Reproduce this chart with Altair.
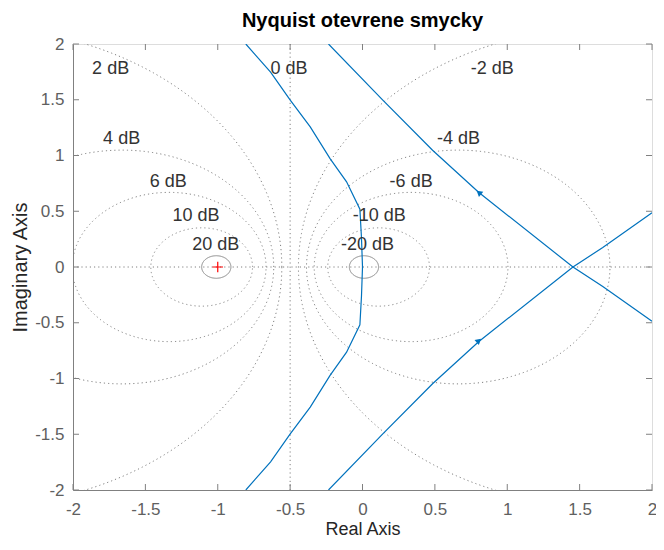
import altair as alt
import numpy as np
import pandas as pd

# ---- Nyquist branches ----
# upper-left branch: from top edge down to the origin (lower half is its mirror)
a_x = [-0.806, -0.635, -0.498, -0.361, -0.224, -0.110, -0.018, -0.007, 0.0]
a_y = [2.0, 1.747, 1.494, 1.256, 0.972, 0.764, 0.519, 0.26, 0.0]
# upper-right branch (lower-right branch is its mirror)
b_x = [-0.235, 0.142, 0.484, 0.804, 1.454, 1.66, 2.0]
b_y = [2.0, 1.494, 1.047, 0.668, 0.0, -0.175, -0.487]

# arrow heads
arrow_x = [0.804, 0.804]
arrow_y = [0.668, -0.66]
arrow_angle = [310, 50]

# M-circle grid levels
db_dotted = [10, 6, 4, 2, -2, -4, -6, -10]
db_solid = [20, -20]

label_text = ["2 dB", "0 dB", "-2 dB", "4 dB", "-4 dB", "6 dB", "-6 dB",
              "10 dB", "-10 dB", "20 dB", "-20 dB"]
label_x = [-1.74, -0.507, 0.897, -1.664, 0.664, -1.342, 0.336, -1.151, 0.116, -1.014, 0.034]
label_y = [1.777, 1.777, 1.777, 1.151, 1.151, 0.758, 0.758, 0.453, 0.453, 0.194, 0.194]

tick_vals = [-2, -1.5, -1, -0.5, 0, 0.5, 1, 1.5, 2]

W, H = 579, 446
GREY = "#808080"
FONT = "Liberation Sans"

xs = alt.Scale(domain=[-2, 2], nice=False, zero=False)
ys = alt.Scale(domain=[-2, 2], nice=False, zero=False)
x_axis = alt.Axis(values=tick_vals, ticks=False, grid=False, domainColor=GREY,
                  labelColor="#606060", labelFontSize=17, labelFont=FONT,
                  labelPadding=11, titleFontSize=18, titleFont=FONT,
                  titleFontWeight="normal", titleColor="#262626", titlePadding=3,
                  labelFlush=False, labelExpr="datum.value")
y_axis = alt.Axis(values=tick_vals, ticks=False, grid=False, domainColor=GREY,
                  labelColor="#606060", labelFontSize=17, labelFont=FONT,
                  labelPadding=9, titleFontSize=20, titleFont=FONT,
                  titleFontWeight="normal", titleColor="#262626", titlePadding=4,
                  labelFlush=False, labelExpr="datum.value")
X = alt.X("x:Q", scale=xs, axis=x_axis, title="Real Axis")
Y = alt.Y("y:Q", scale=ys, axis=y_axis, title="Imaginary Axis")


def circle_rows(levels):
    rows = []
    th = np.linspace(0, 2 * np.pi, 721)
    for db in levels:
        m = 10 ** (db / 20.0)
        c = -m * m / (m * m - 1)
        r = abs(m / (m * m - 1))
        for i, t in enumerate(th):
            rows.append({"k": str(db), "o": i, "x": c + r * np.cos(t), "y": r * np.sin(t)})
    return pd.DataFrame(rows)


dotted_df = circle_rows(db_dotted)
solid_df = circle_rows(db_solid)

dotted = alt.Chart(dotted_df).mark_line(
    clip=True, color="#808080", strokeWidth=1, strokeDash=[1.2, 3]
).encode(x=X, y=Y, detail="k:N", order="o:Q")
solid = alt.Chart(solid_df).mark_line(
    clip=True, color=GREY, strokeWidth=1
).encode(x=X, y=Y, detail="k:N", order="o:Q")

# straight grid lines: real axis and 0 dB line
grid_lines = pd.DataFrame({"k": ["h", "h", "v", "v"], "o": [0, 1, 0, 1],
                           "x": [-2, 2, -0.5, -0.5], "y": [0, 0, 2, -2]})
glines = alt.Chart(grid_lines).mark_line(
    clip=True, color="#808080", strokeWidth=1, strokeDash=[1.2, 3]
).encode(x=X, y=Y, detail="k:N", order="o:Q")

# Nyquist curves
rows = []
upper = list(zip(a_x, a_y))
full_a = upper + [(x, -y) for x, y in reversed(upper[:-1])]
for i, (x, y) in enumerate(full_a):
    rows.append({"s": "A", "o": i, "x": x, "y": y})
for i, (x, y) in enumerate(zip(b_x, b_y)):
    rows.append({"s": "B", "o": i, "x": x, "y": y})
    rows.append({"s": "C", "o": i, "x": x, "y": -y})
curve_df = pd.DataFrame(rows)
curves = alt.Chart(curve_df).mark_line(
    clip=True, color="#0072BD", strokeWidth=1.2
).encode(x=X, y=Y, detail="s:N", order="o:Q")

arrows = alt.Chart(pd.DataFrame({"x": arrow_x, "y": arrow_y, "a": arrow_angle})).mark_point(
    shape="triangle-up", filled=True, color="#0072BD", size=45, opacity=1
).encode(x=X, y=Y, angle=alt.Angle("a:Q", scale=None))

crit = alt.Chart(pd.DataFrame({"x": [-1], "y": [0]})).mark_point(
    shape="M-1,0L1,0M0,-1L0,1", filled=False, color="red", size=110,
    strokeWidth=1.2, opacity=1
).encode(x=X, y=Y)

labels = alt.Chart(pd.DataFrame({"x": label_x, "y": label_y, "t": label_text})).mark_text(
    font=FONT, fontSize=18, color="#333333", align="center", baseline="middle"
).encode(x=X, y=Y, text="t:N")

# inward ticks on all four sides
tdf = pd.DataFrame({"x": tick_vals, "y": tick_vals})
tk = dict(color=GREY, strokeWidth=1)
t_bottom = alt.Chart(tdf).mark_rule(**tk).encode(x=X, y=alt.value(H), y2=alt.value(H - 6))
t_top = alt.Chart(tdf).mark_rule(**tk).encode(x=X, y=alt.value(0), y2=alt.value(6))
t_left = alt.Chart(tdf).mark_rule(**tk).encode(y=Y, x=alt.value(0), x2=alt.value(6))
t_right = alt.Chart(tdf).mark_rule(**tk).encode(y=Y, x=alt.value(W), x2=alt.value(W - 6))

chart = alt.layer(
    dotted, glines, solid, curves, arrows, crit, labels,
    t_bottom, t_top, t_left, t_right
).properties(
    width=W, height=H,
    title=alt.TitleParams("Nyquist otevrene smycky", font=FONT, fontSize=20,
                          fontWeight="bold", color="#000000", offset=4,
                          anchor="middle"),
    autosize=alt.AutoSizeParams(type="none"),
    padding={"left": 65, "top": 36, "right": 4, "bottom": 50},
).configure_view(stroke=GREY, strokeWidth=1).configure(background="white")

chart.save("out.html", embed_options={"renderer": "svg", "actions": False})
